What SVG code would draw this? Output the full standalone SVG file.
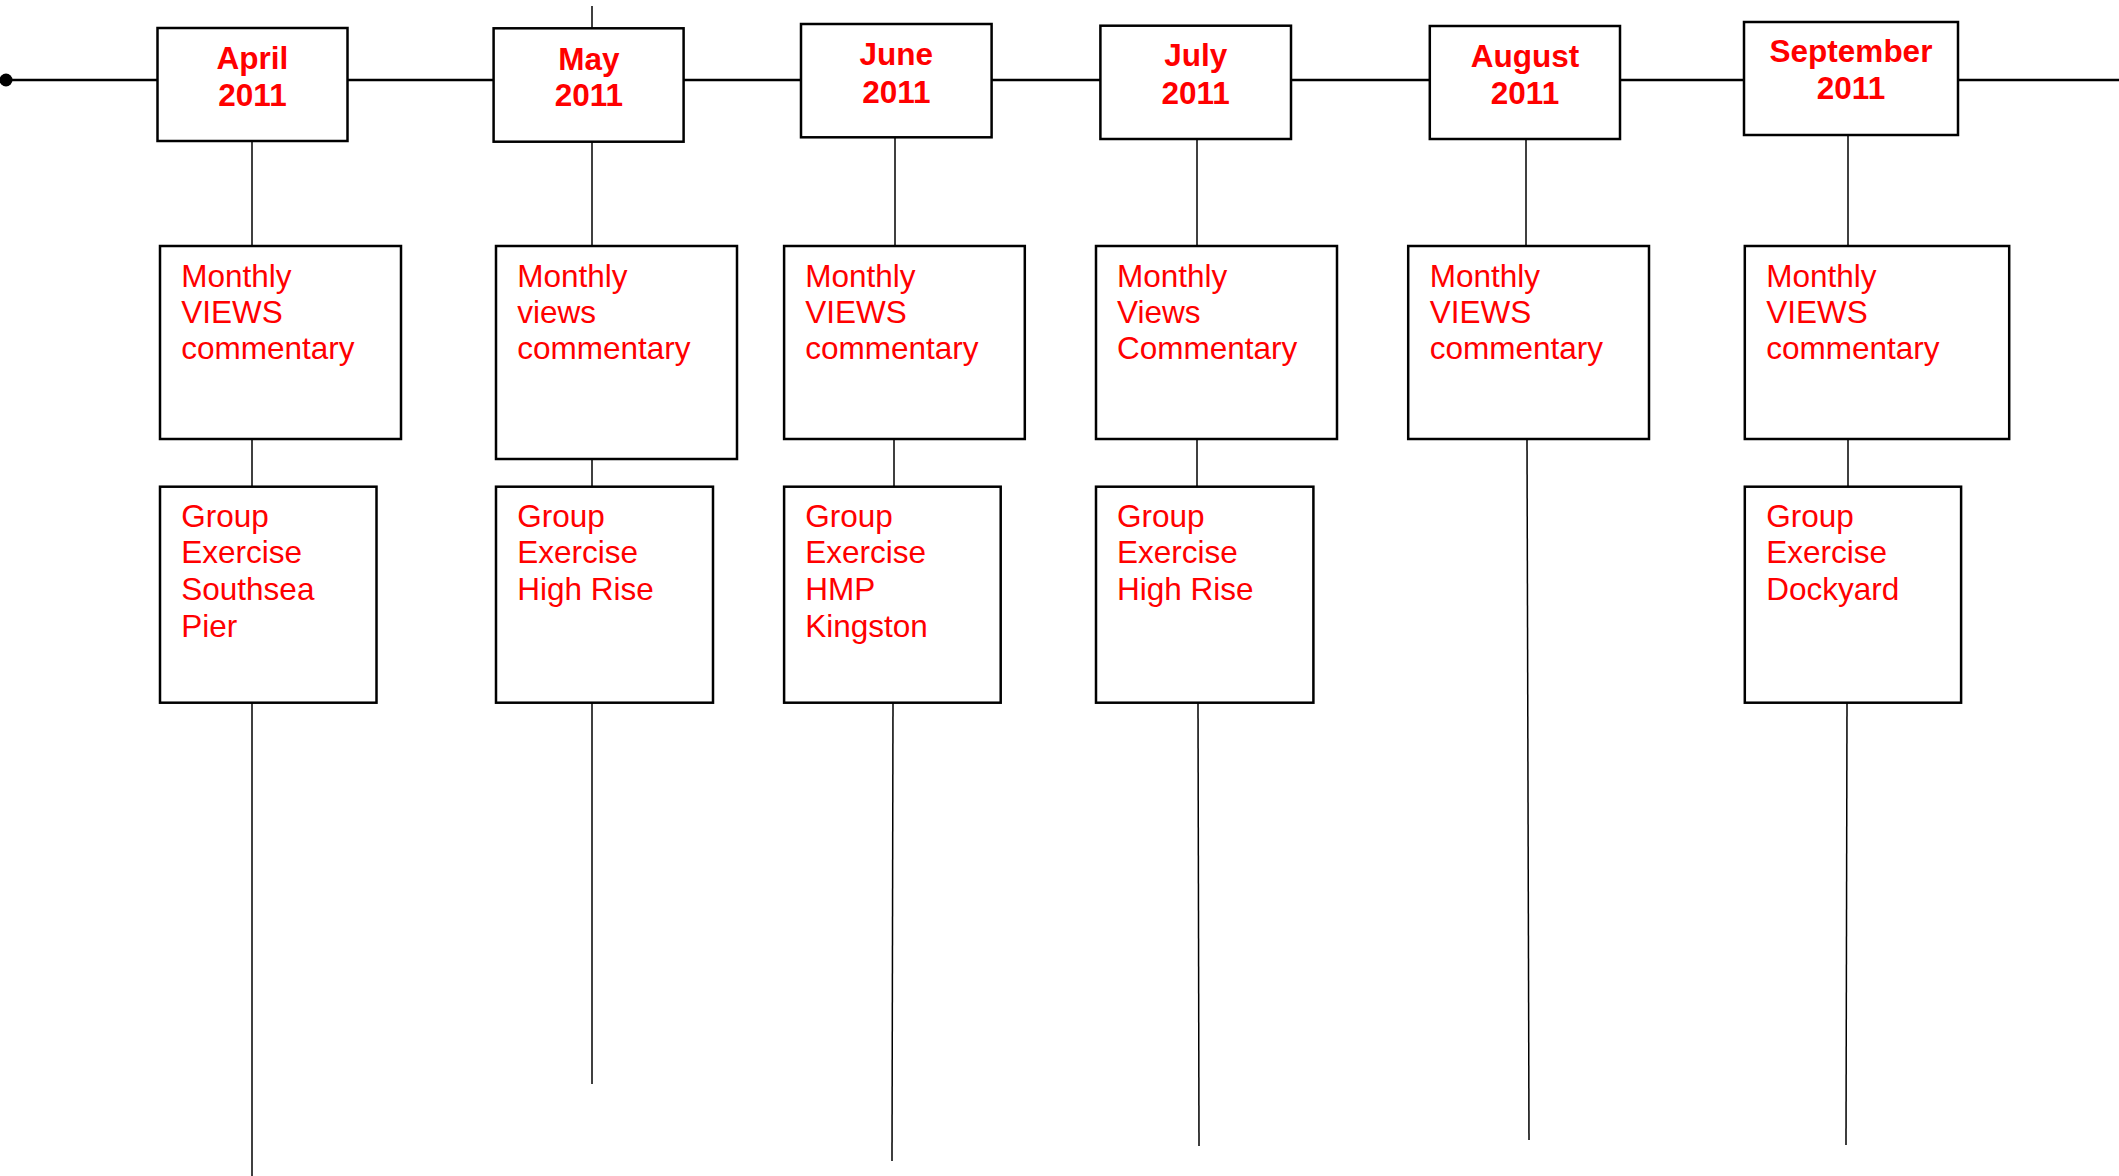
<svg xmlns="http://www.w3.org/2000/svg" width="2119" height="1176" viewBox="0 0 2119 1176">
<style>
.box{fill:#fff;stroke:#000;stroke-width:2.5}
.mt{font-family:"Liberation Sans",Arial,sans-serif;font-size:31.5px;font-weight:bold;fill:#f00;text-anchor:middle}
.bt{font-family:"Liberation Sans",Arial,sans-serif;font-size:31.5px;fill:#f00}
.tl{stroke:#000;stroke-width:2.7;fill:none}
.vl{stroke:#000;stroke-width:1.5;fill:none}
</style>
<rect width="2119" height="1176" fill="#fff"/>
<g id="connectors">
<line class="tl" x1="6" y1="80" x2="2119" y2="80"/>
<circle cx="6" cy="80" r="6.5" fill="#000"/>
<line class="vl" x1="252" y1="141" x2="252" y2="246"/>
<line class="vl" x1="252" y1="439" x2="252" y2="487"/>
<line class="vl" x1="252" y1="703" x2="252" y2="1176"/>
<line class="vl" x1="592" y1="6" x2="592" y2="28"/>
<line class="vl" x1="592" y1="142" x2="592" y2="246"/>
<line class="vl" x1="592" y1="459" x2="592" y2="487"/>
<line class="vl" x1="592" y1="703" x2="592" y2="1084"/>
<line class="vl" x1="895" y1="137" x2="895" y2="246"/>
<line class="vl" x1="894" y1="439" x2="894" y2="487"/>
<line class="vl" x1="893" y1="703" x2="892" y2="1161"/>
<line class="vl" x1="1197" y1="139" x2="1197" y2="246"/>
<line class="vl" x1="1197" y1="439" x2="1197" y2="487"/>
<line class="vl" x1="1198" y1="703" x2="1199" y2="1146"/>
<line class="vl" x1="1526" y1="139" x2="1526" y2="246"/>
<line class="vl" x1="1527" y1="439" x2="1529" y2="1140"/>
<line class="vl" x1="1848" y1="135" x2="1848" y2="246"/>
<line class="vl" x1="1848" y1="439" x2="1848" y2="487"/>
<line class="vl" x1="1847" y1="703" x2="1846" y2="1145"/>
</g>
<g id="m-apr"><rect class="box" x="157.5" y="28" width="190" height="113"/><text class="mt" x="252.5" y="69.3">April</text><text class="mt" x="252.5" y="106">2011</text></g>
<g id="m-may"><rect class="box" x="493.6" y="28.3" width="190" height="113.4"/><text class="mt" x="588.8" y="70">May</text><text class="mt" x="588.8" y="106">2011</text></g>
<g id="m-jun"><rect class="box" x="801" y="24" width="190.6" height="113.3"/><text class="mt" x="896.3" y="65">June</text><text class="mt" x="896.3" y="103.3">2011</text></g>
<g id="m-jul"><rect class="box" x="1100.4" y="25.7" width="190.6" height="113.3"/><text class="mt" x="1195.7" y="65.7">July</text><text class="mt" x="1195.7" y="104">2011</text></g>
<g id="m-aug"><rect class="box" x="1429.8" y="26" width="190.2" height="113"/><text class="mt" x="1525" y="66.7">August</text><text class="mt" x="1525" y="104">2011</text></g>
<g id="m-sep"><rect class="box" x="1744" y="22" width="214" height="113"/><text class="mt" x="1851" y="61.7">September</text><text class="mt" x="1851" y="99.3">2011</text></g>

<g id="v-apr"><rect class="box" x="160" y="246" width="241" height="193"/><text class="bt" x="181.3" y="287.3">Monthly</text><text class="bt" x="181.3" y="323.3">VIEWS</text><text class="bt" x="181.3" y="359.3">commentary</text></g>
<g id="v-may"><rect class="box" x="496" y="246" width="241" height="213"/><text class="bt" x="517.3" y="287.3">Monthly</text><text class="bt" x="517.3" y="323.3">views</text><text class="bt" x="517.3" y="359.3">commentary</text></g>
<g id="v-jun"><rect class="box" x="784.1" y="246" width="240.7" height="193"/><text class="bt" x="805.2" y="287.3">Monthly</text><text class="bt" x="805.2" y="323.3">VIEWS</text><text class="bt" x="805.2" y="359.3">commentary</text></g>
<g id="v-jul"><rect class="box" x="1096" y="246" width="241" height="193"/><text class="bt" x="1117" y="287.3">Monthly</text><text class="bt" x="1117" y="323.3">Views</text><text class="bt" x="1117" y="359.3">Commentary</text></g>
<g id="v-aug"><rect class="box" x="1408.2" y="246" width="240.8" height="193"/><text class="bt" x="1429.7" y="287.3">Monthly</text><text class="bt" x="1429.7" y="323.3">VIEWS</text><text class="bt" x="1429.7" y="359.3">commentary</text></g>
<g id="v-sep"><rect class="box" x="1744.8" y="246" width="264.4" height="193"/><text class="bt" x="1766.3" y="287.3">Monthly</text><text class="bt" x="1766.3" y="323.3">VIEWS</text><text class="bt" x="1766.3" y="359.3">commentary</text></g>

<g id="g-apr"><rect class="box" x="160" y="486.7" width="216.5" height="216"/><text class="bt" x="181.3" y="526.5">Group</text><text class="bt" x="181.3" y="563.2">Exercise</text><text class="bt" x="181.3" y="599.9">Southsea</text><text class="bt" x="181.3" y="636.6">Pier</text></g>
<g id="g-may"><rect class="box" x="496" y="486.7" width="217" height="216"/><text class="bt" x="517.3" y="526.5">Group</text><text class="bt" x="517.3" y="563.2">Exercise</text><text class="bt" x="517.3" y="599.9">High Rise</text></g>
<g id="g-jun"><rect class="box" x="784.1" y="486.7" width="216.6" height="216"/><text class="bt" x="805.2" y="526.5">Group</text><text class="bt" x="805.2" y="563.2">Exercise</text><text class="bt" x="805.2" y="599.9">HMP</text><text class="bt" x="805.2" y="636.6">Kingston</text></g>
<g id="g-jul"><rect class="box" x="1096" y="486.7" width="217.4" height="216"/><text class="bt" x="1117" y="526.5">Group</text><text class="bt" x="1117" y="563.2">Exercise</text><text class="bt" x="1117" y="599.9">High Rise</text></g>
<g id="g-sep"><rect class="box" x="1744.8" y="486.7" width="216.3" height="216"/><text class="bt" x="1766.3" y="526.5">Group</text><text class="bt" x="1766.3" y="563.2">Exercise</text><text class="bt" x="1766.3" y="599.9">Dockyard</text></g>
</svg>
